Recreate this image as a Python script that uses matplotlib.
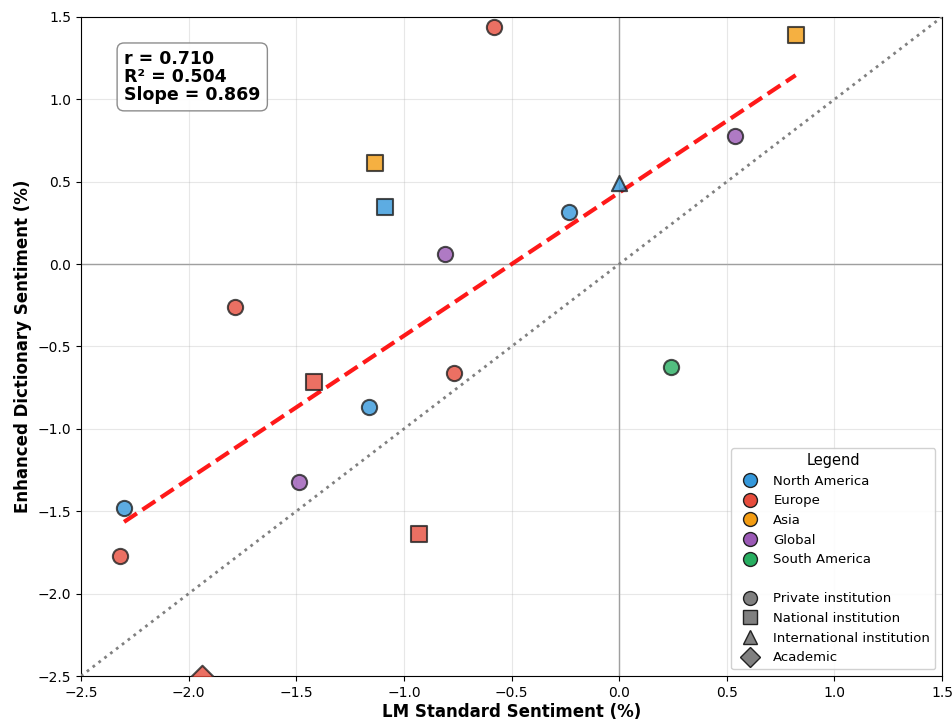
import numpy as np
import matplotlib.pyplot as plt
from matplotlib.lines import Line2D

# LM standard vs enhanced dictionary sentiment (%), grouped by region
na_x = [-2.30, -0.235, -1.164]
na_y = [-1.481, 0.316, -0.868]
na_sq_x = [-1.089]
na_sq_y = [0.346]
na_tri_x = [0.0]
na_tri_y = [0.49]

eu_x = [-2.32, -1.786, -0.583, -0.769]
eu_y = [-1.772, -0.261, 1.439, -0.662]
eu_sq_x = [-1.419, -0.931]
eu_sq_y = [-0.716, -1.639]
eu_dia_x = [-1.94]
eu_dia_y = [-2.50]

asia_sq_x = [-1.135, 0.82]
asia_sq_y = [0.613, 1.39]

glob_x = [-0.81, -1.489, 0.54]
glob_y = [0.061, -1.323, 0.777]

sa_x = [0.239]
sa_y = [-0.625]

r_val = 0.710
r2_val = 0.504
slope = 0.869
intercept = 0.434
fit_range = [-2.30, 0.82]

colors = {
    "North America": "#3498db",
    "Europe": "#e74c3c",
    "Asia": "#f39c12",
    "Global": "#9b59b6",
    "South America": "#27ae60",
}

fig = plt.figure(figsize=(9.53, 7.22), dpi=100)
ax = fig.add_axes([0.085, 0.0637, 0.9035, 0.9128])

kw = dict(s=120, alpha=0.8, edgecolors="#222222", linewidths=1.5, zorder=5)
ax.scatter(na_x, na_y, c=colors["North America"], marker="o", **kw)
ax.scatter(na_sq_x, na_sq_y, c=colors["North America"], marker="s", **kw)
ax.scatter(na_tri_x, na_tri_y, c=colors["North America"], marker="^", **kw)
ax.scatter(eu_x, eu_y, c=colors["Europe"], marker="o", **kw)
ax.scatter(eu_sq_x, eu_sq_y, c=colors["Europe"], marker="s", **kw)
ax.scatter(eu_dia_x, eu_dia_y, c=colors["Europe"], marker="D", **kw)
ax.scatter(asia_sq_x, asia_sq_y, c=colors["Asia"], marker="s", **kw)
ax.scatter(glob_x, glob_y, c=colors["Global"], marker="o", **kw)
ax.scatter(sa_x, sa_y, c=colors["South America"], marker="o", **kw)

# regression line
xf = np.array(fit_range)
ax.plot(xf, slope * xf + intercept, color="red", linestyle="--", linewidth=3, alpha=0.9, zorder=4)

# y = x reference
ax.plot([-2.5, 1.5], [-2.5, 1.5], color="gray", linestyle=":", linewidth=2, zorder=3)

ax.axhline(0, color="gray", linewidth=1, alpha=0.8, zorder=1)
ax.axvline(0, color="gray", linewidth=1, alpha=0.8, zorder=1)

ax.set_xlim(-2.5, 1.5)
ax.set_ylim(-2.5, 1.5)
ax.grid(True, alpha=0.3)
ax.set_xlabel("LM Standard Sentiment (%)", fontsize=12, fontweight="bold", labelpad=2)
ax.set_ylabel("Enhanced Dictionary Sentiment (%)", fontsize=12, fontweight="bold")

stats = f"r = {r_val:.3f}\nR² = {r2_val:.3f}\nSlope = {slope:.3f}"
ax.text(0.05, 0.95, stats, transform=ax.transAxes, fontsize=12.5, fontweight="bold",
        va="top", linespacing=1.0,
        bbox=dict(boxstyle="round,pad=0.4", facecolor="white", edgecolor="gray", alpha=0.9))

handles = []
for name, c in colors.items():
    handles.append(Line2D([], [], marker="o", linestyle="", markersize=10,
                          markerfacecolor=c, markeredgecolor="#222222", label=name))
handles.append(Line2D([], [], linestyle="", label=" "))
for m, name in [("o", "Private institution"), ("s", "National institution"),
                ("^", "International institution"), ("D", "Academic")]:
    handles.append(Line2D([], [], marker=m, linestyle="", markersize=10,
                          markerfacecolor="gray", markeredgecolor="#222222", label=name))
ax.legend(handles=handles, loc="lower right", title="Legend", fontsize=9.5,
          title_fontsize=10.5, framealpha=0.9)

fig.savefig("out.png", dpi=100)
